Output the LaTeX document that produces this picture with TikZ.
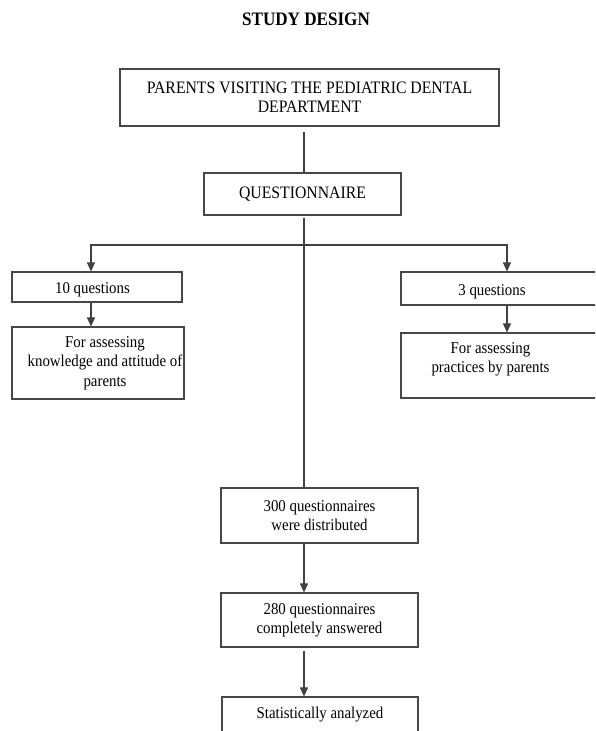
\documentclass[tikz,border=0pt]{standalone}
\usepackage{fontspec}
\setmainfont{Liberation Serif}[FakeStretch=0.9]
\usetikzlibrary{arrows.meta}
\begin{document}
\begin{tikzpicture}[x=1pt,y=-1pt,
  txt/.style={font=\fontsize{16.5}{19.3}\selectfont, align=center},
  box/.style={draw=black!72, line width=1.1pt, inner sep=0pt, txt},
  conn/.style={draw=black!75, line width=1.1pt},
  arr/.style={conn, -{Triangle[length=9pt,width=8pt]}}]
\clip (0,0) rectangle (595,731);
\useasboundingbox (0,0) rectangle (595,731);
\fill[white] (0,0) rectangle (595,731);

\node[font=\fontsize{19}{22}\selectfont\bfseries] (title) at (306,19.5) {STUDY DESIGN};

\node[box, font=\fontsize{17.5}{19}\selectfont, minimum width=379pt, minimum height=57pt] (top) at (309.5,97.5)
  {PARENTS VISITING THE PEDIATRIC DENTAL\\DEPARTMENT};
\node[box, font=\fontsize{17.5}{19}\selectfont, minimum width=197pt, minimum height=42pt] (qn) at (302.5,194) {QUESTIONNAIRE};

\node[box, minimum width=170pt, minimum height=30pt,
  label={[txt, xshift=-4.5pt, yshift=-3pt]center:10 questions}] (q10) at (97,287) {};
\node[box, minimum width=172pt, minimum height=72pt,
  label={[txt, xshift=7pt]center:For assessing\\knowledge and attitude of\\parents}] (kn) at (98,363) {};

\node[box, minimum width=219pt, minimum height=33pt,
  label={[txt, xshift=-18.5pt, yshift=-3pt]center:3 questions}] (q3) at (510.5,288.5) {};
\node[box, minimum width=219pt, minimum height=65pt,
  label={[txt, xshift=-20pt, yshift=6pt]center:For assessing\\practices by parents}] (pr) at (510.5,365.5) {};

\node[box, minimum width=197pt, minimum height=55pt] (d300) at (319.5,515.5)
  {300 questionnaires\\were distributed};
\node[box, minimum width=197pt, minimum height=54pt] (d280) at (319.5,620)
  {280 questionnaires\\completely answered};
\node[box, minimum width=196pt, minimum height=36pt] (stat) at (320,715)
  {Statistically analyzed};

\coordinate (spine) at (304,0);
\coordinate (lx) at (91,0);
\coordinate (rx) at (507,0);
\coordinate (br) at (0,245);

\draw[conn] ([yshift=-5pt]top.south -| spine) -- (qn.north -| spine);
\draw[conn] ([yshift=-2pt]qn.south -| spine) -- (d300.north -| spine);
\draw[arr] (br -| spine) -| (q10.north -| lx);
\draw[arr] (br -| spine) -| (q3.north -| rx);
\draw[arr] (q10.south -| lx) -- (kn.north -| lx);
\draw[arr] (q3.south -| rx) -- (pr.north -| rx);
\draw[arr] (d300.south -| spine) -- (d280.north -| spine);
\draw[arr] ([yshift=-3pt]d280.south -| spine) -- (stat.north -| spine);
\end{tikzpicture}
\end{document}
